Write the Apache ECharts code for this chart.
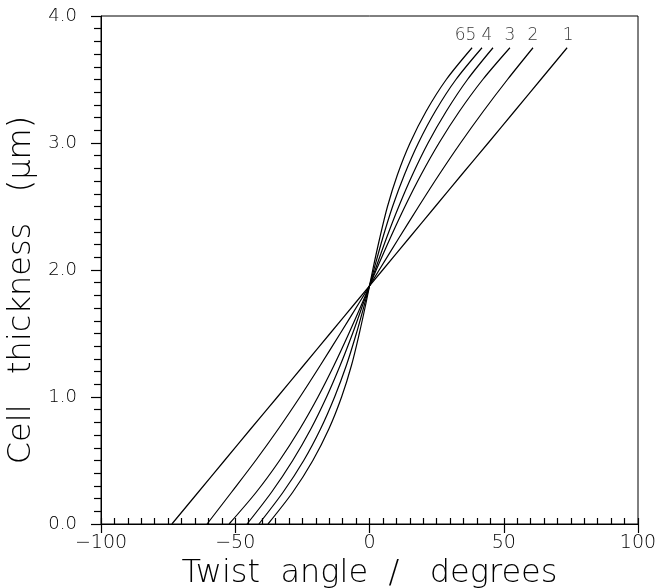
<!DOCTYPE html>
<html><head><meta charset="utf-8">
<script src="https://cdn.jsdelivr.net/npm/echarts@6/dist/echarts.min.js"></script>
<style>html,body{margin:0;padding:0;background:#fff}#c{width:657px;height:588px}</style>
</head><body><div id="c"></div>
<script>
// Cell thickness (μm) sample positions shared by all curves
const thickness = [0, 0.25, 0.5, 0.75, 1.0, 1.25, 1.5, 1.75, 2.0, 2.25, 2.5, 2.75, 3.0, 3.25, 3.5, 3.75];
// Twist angle (degrees) for each curve
const curve1 = [-73.6, -63.8, -54.0, -44.2, -34.3, -24.5, -14.7, -4.9, 4.9, 14.7, 24.5, 34.3, 44.2, 54.0, 63.8, 73.6];
const curve2 = [-60.5, -51.4, -42.4, -33.9, -25.9, -18.3, -10.9, -3.6, 3.6, 10.9, 18.3, 25.9, 33.9, 42.4, 51.4, 60.9];
const curve3 = [-52.3, -42.2, -33.5, -25.9, -19.2, -13.2, -7.7, -2.5, 2.5, 7.7, 13.2, 19.2, 25.9, 33.5, 42.2, 52.3];
const curve4 = [-45.6, -36.5, -28.6, -21.8, -16.0, -10.9, -6.3, -2.1, 2.1, 6.3, 10.9, 16.0, 21.8, 28.6, 36.5, 46.0];
const curve5 = [-41.2, -32.2, -24.5, -18.2, -13.0, -8.6, -4.9, -1.6, 1.6, 4.9, 8.6, 13.0, 18.2, 24.5, 32.2, 41.9];
const curve6 = [-37.8, -28.6, -21.1, -15.1, -10.4, -6.7, -3.8, -1.2, 1.2, 3.8, 6.7, 10.4, 15.1, 21.1, 28.6, 38.2];
const curveNames = ['1', '2', '3', '4', '5', '6'];
const curves = [curve1, curve2, curve3, curve4, curve5, curve6];
const xTicks = [-100, -50, 0, 50, 100];
const yTicks = [0, 1, 2, 3, 4];

const labelOffsets = [[1, 0], [0, 0], [0, 0], [-6, 0], [-11, 0], [-12, 0]];
const FONT = 'DejaVu Sans';

const lineSeries = curves.map((xs, i) => ({
  type: 'line', name: curveNames[i], xAxisIndex: 0, yAxisIndex: 0,
  data: xs.map((x, k) => [x, thickness[k]]),
  showSymbol: false, symbol: 'none', smooth: 0.3,
  lineStyle: { color: '#000', width: 1.2 }, silent: true, animation: false, z: 3
}));
const labelSeries = {
  type: 'scatter', xAxisIndex: 0, yAxisIndex: 0, symbolSize: 0, silent: true, animation: false,
  data: curves.map((xs, i) => ({
    value: [xs[xs.length - 1], thickness[thickness.length - 1]],
    label: { show: true, position: 'top', distance: 4, offset: labelOffsets[i], formatter: curveNames[i],
      color: '#000', fontFamily: FONT, fontWeight: 300, fontSize: 17 }
  }))
};

const chart = echarts.init(document.getElementById('c'), null, { renderer: 'canvas' });
chart.setOption({
  backgroundColor: '#fff',
  animation: false,
  grid: { left: 101, right: 19, top: 16, bottom: 64, show: true, borderColor: '#000', borderWidth: 1,
    backgroundColor: 'transparent', outerBoundsMode: 'none', containLabel: false },
  xAxis: [
    { type: 'value', position: 'bottom', min: xTicks[0], max: xTicks[xTicks.length - 1], interval: 50,
      name: 'Twist  angle  /   degrees', nameLocation: 'middle', nameGap: 25,
      nameTextStyle: { fontFamily: FONT, fontWeight: 300, fontSize: 32, color: '#000' },
      axisLine: { show: true, onZero: false, lineStyle: { color: '#000', width: 1 } },
      axisTick: { show: true, inside: false, length: 9, lineStyle: { color: '#000', width: 1.2 } },
      axisLabel: { show: true, margin: 10, fontFamily: FONT, fontWeight: 300, fontSize: 19, color: '#000',
        formatter: v => String(v).replace('-', '\u2212') },
      splitLine: { show: false } },
    { type: 'value', position: 'bottom', min: xTicks[0], max: xTicks[xTicks.length - 1], interval: 5,
      axisLine: { show: false, onZero: false },
      axisTick: { show: true, inside: true, length: 6, lineStyle: { color: '#000', width: 1.2 } },
      axisLabel: { show: false }, splitLine: { show: false } }
  ],
  yAxis: [
    { type: 'value', min: yTicks[0], max: yTicks[yTicks.length - 1], interval: 1,
      name: 'Cell   thickness   (\u03bcm)', nameLocation: 'middle', nameGap: 60,
      nameTextStyle: { fontFamily: FONT, fontWeight: 300, fontSize: 32, color: '#000', padding: [0, 40, 0, 0] },
      axisLine: { show: true, onZero: false, lineStyle: { color: '#000', width: 1 } },
      axisTick: { show: true, inside: false, length: 10, lineStyle: { color: '#000', width: 1.2 } },
      minorTick: { show: true, splitNumber: 10, length: 7, lineStyle: { color: '#000', width: 1.2 } },
      axisLabel: { show: true, margin: 24, fontFamily: FONT, fontWeight: 300, fontSize: 18, color: '#000',
        formatter: v => v.toFixed(1) },
      splitLine: { show: false }, minorSplitLine: { show: false } }
  ],
  series: [...lineSeries, labelSeries]
});
</script></body></html>
